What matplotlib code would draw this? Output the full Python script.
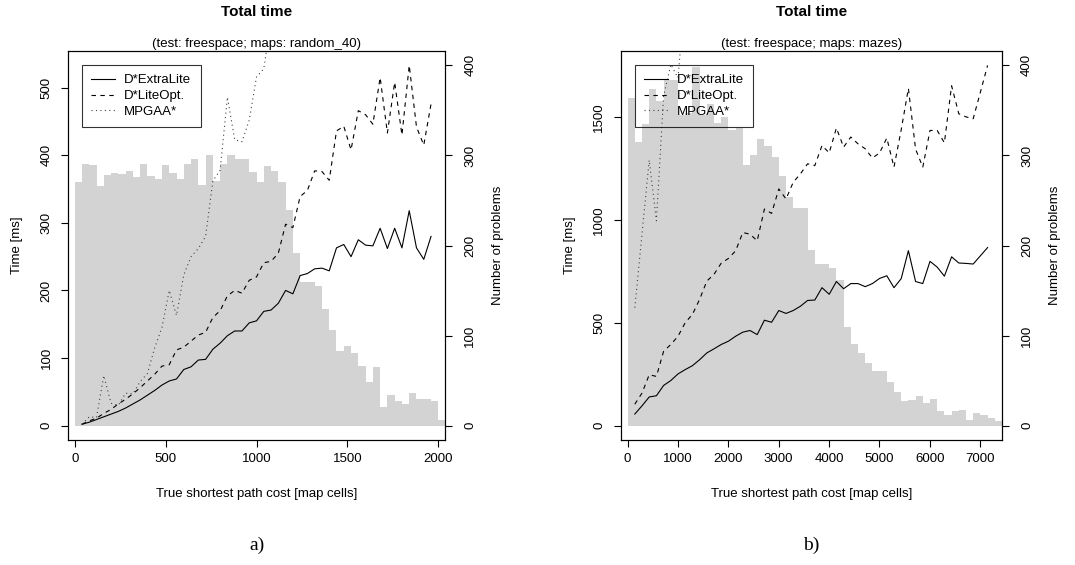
import numpy as np
import matplotlib.pyplot as plt

plt.rcParams['font.family'] = ['Liberation Sans', 'DejaVu Sans']

# panel a) maps random_40, one point every 40 map cells
x_random = np.arange(40, 1961, 40)
extralite_random = [2, 5, 9, 13, 17, 21, 26, 32, 38, 45,
                    52, 60, 66, 69, 83, 87, 97, 98, 113, 122,
                    133, 140, 140, 152, 155, 169, 171, 181, 200, 195,
                    222, 225, 232, 233, 229, 263, 268, 250, 275, 267,
                    266, 292, 262, 292, 263, 318, 263, 246, 280]
liteopt_random = [2, 7, 11, 18, 24, 32, 39, 47, 56, 66,
                  76, 88, 90, 112, 116, 125, 134, 138, 160, 170,
                  192, 200, 196, 215, 220, 241, 243, 255, 298, 293,
                  339, 348, 377, 376, 363, 436, 443, 408, 466, 460,
                  446, 515, 433, 508, 430, 533, 442, 415, 476]
# MPGAA* leaves the top of the plot after these points
mpgaa_random = [2, 13, 12, 74, 33, 30, 48, 47, 65, 77,
                115, 145, 200, 163, 223, 250, 262, 280, 362, 378,
                486, 423, 420, 452, 516, 528, 600]
bin_random = 40
hist_random = [270, 290, 289, 266, 278, 281, 279, 283, 276, 290,
               277, 274, 289, 280, 274, 291, 296, 267, 300, 272,
               291, 300, 296, 296, 282, 270, 288, 283, 270, 239,
               192, 160, 160, 155, 130, 106, 83, 88, 81, 66,
               48, 65, 21, 34, 27, 24, 36, 30, 30, 27, 6]

# panel b) maps mazes, one point every 143 map cells
x_mazes = np.arange(143, 7151, 143)
extralite_mazes = [56, 96, 139, 145, 195, 219, 251, 272, 291, 320,
                   353, 373, 394, 410, 434, 454, 462, 442, 512, 502,
                   559, 545, 559, 580, 608, 610, 670, 638, 700, 665,
                   690, 690, 675, 690, 715, 728, 670, 714, 850, 700,
                   690, 798, 770, 726, 820, 790, 788, 785, 825, 865]
liteopt_mazes = [104, 158, 247, 239, 361, 394, 434, 500, 540, 613,
                 702, 735, 789, 812, 849, 938, 930, 898, 1052, 1031,
                 1150, 1101, 1182, 1223, 1272, 1263, 1361, 1325, 1446, 1353,
                 1402, 1369, 1345, 1300, 1325, 1397, 1256, 1437, 1638, 1343,
                 1256, 1434, 1434, 1374, 1651, 1515, 1500, 1491, 1620, 1750]
mpgaa_mazes = [573, 930, 1290, 995, 1600, 1755, 1690, 2100]
bin_mazes = 143
hist_mazes = [364, 315, 335, 374, 360, 384, 384, 345, 347, 398,
              345, 357, 336, 343, 328, 330, 289, 300, 318, 310,
              298, 277, 254, 242, 242, 195, 180, 179, 175, 162,
              109, 91, 81, 69, 61, 61, 48, 37, 27, 28,
              33, 25, 29, 16, 12, 16, 17, 6, 14, 12, 8, 5]

hist_max = 400
W, H = 1075, 565
FS = 9.5


def draw_panel(fig, box, x, extralite, liteopt, mpgaa, counts, bin_width,
               yticks, xticks, subtitle, letter):
    left, right, top, bottom = box
    width, height = right - left, bottom - top
    ax = fig.add_axes([left / W, 1 - bottom / H, width / W, height / H])
    ax2 = ax.twinx()
    ax.set_zorder(ax2.get_zorder() + 1)
    ax.patch.set_visible(False)

    # histogram of problems on the right axis
    edges = np.arange(len(counts)) * bin_width
    ax2.bar(edges, counts, width=bin_width, align='edge', color='#d3d3d3', linewidth=0)
    ax2.set_ylim(-0.04 * hist_max, 1.04 * hist_max)
    rt = [0, 100, 200, 300, 400]
    ax2.set_yticks(rt, [str(t) for t in rt], rotation=90, va='center')
    ax2.tick_params(axis='y', direction='out', length=5, width=0.8, pad=9, labelsize=FS)
    ax2.set_ylabel('Number of problems', fontsize=FS, va='center')
    ax2.yaxis.set_label_coords(1 + 53 / width, 0.5)

    ax.plot(x, extralite, color='black', lw=0.8, label='D*ExtraLite')
    ax.plot(x, liteopt, color='black', lw=0.8, linestyle=(0, (4, 4)), label='D*LiteOpt.')
    ax.plot(x[:len(mpgaa)], mpgaa, color='#444444', lw=0.8, linestyle=(0, (1, 3)),
            label='MPGAA*')

    span = x[-1] - x[0]
    ax.set_xlim(x[0] - 0.04 * span, x[-1] + 0.04 * span)
    top_val = max(liteopt)
    ax.set_ylim(-0.04 * top_val, 1.04 * top_val)
    ax.set_xticks(xticks, [str(t) for t in xticks])
    ax.set_yticks(yticks, [str(t) for t in yticks], rotation=90, va='center')
    ax.tick_params(axis='y', direction='out', length=5, width=0.8, pad=6, labelsize=FS)
    ax.tick_params(axis='x', direction='out', length=5, width=0.8, pad=4.5, labelsize=FS)
    for sp in list(ax.spines.values()) + list(ax2.spines.values()):
        sp.set_linewidth(0.8)

    ax.set_ylabel('Time [ms]', fontsize=FS, va='center')
    ax.yaxis.set_label_coords(-51 / width, 0.5)
    ax.set_xlabel('True shortest path cost [map cells]', fontsize=FS, va='center')
    ax.xaxis.set_label_coords(0.5, -54 / height)

    leg = ax.legend(loc='upper left',
                    bbox_to_anchor=(14 / width, 1 - 14 / height),
                    borderaxespad=0, fontsize=FS, frameon=True, fancybox=False,
                    handlelength=1.8, handletextpad=0.7, labelspacing=0.27,
                    borderpad=0.7)
    leg.get_frame().set_edgecolor('black')
    leg.get_frame().set_facecolor('none')
    leg.get_frame().set_linewidth(0.8)

    cx = (left + right) / 2 / W
    fig.text(cx, 1 - 12.5 / H, 'Total time', fontsize=11, fontweight='bold',
             ha='center', va='center')
    fig.text(cx, 1 - 44 / H, subtitle, fontsize=FS, ha='center', va='center')
    fig.text(cx, 1 - 545 / H, letter, fontsize=14, family='Liberation Serif',
             ha='center', va='center')


fig = plt.figure(figsize=(W / 100, H / 100), dpi=100)
draw_panel(fig, (68, 445, 51, 440), x_random, extralite_random, liteopt_random,
           mpgaa_random, hist_random, bin_random, [0, 100, 200, 300, 400, 500],
           [0, 500, 1000, 1500, 2000], '(test: freespace; maps: random_40)', 'a)')
draw_panel(fig, (620.7, 1001.7, 51, 440), x_mazes, extralite_mazes, liteopt_mazes,
           mpgaa_mazes, hist_mazes, bin_mazes, [0, 500, 1000, 1500],
           [0, 1000, 2000, 3000, 4000, 5000, 6000, 7000],
           '(test: freespace; maps: mazes)', 'b)')
fig.savefig('out.png', dpi=100)
